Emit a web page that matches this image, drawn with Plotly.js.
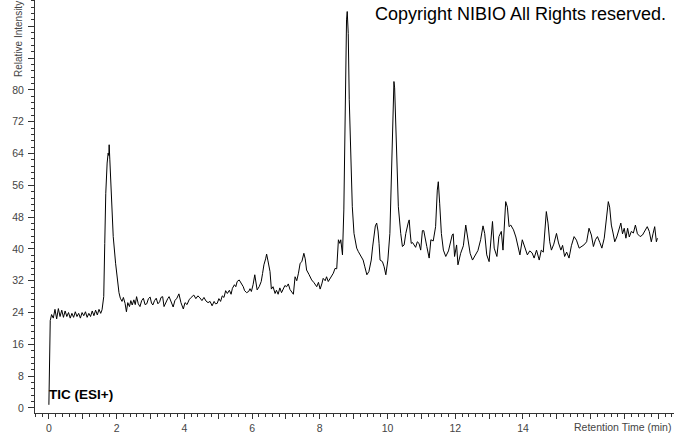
<!DOCTYPE html>
<html>
<head>
<meta charset="utf-8">
<script src="https://cdn.plot.ly/plotly-3.0.1.min.js"></script>
<style>html,body{margin:0;padding:0;background:#fff;}#chart{width:674px;height:434px;}</style>
</head>
<body>
<div id="chart"></div>
<script>
// Retention time (min)
const retentionTime = [
0.00,0.02,0.04,0.08,0.13,0.18,0.23,0.28,0.33,0.38,0.43,0.48,0.53,0.58,0.63,0.68,0.73,0.78,0.83,0.88,0.93,0.98,
1.03,1.08,1.13,1.18,1.23,1.28,1.33,1.38,1.43,1.48,1.53,1.57,1.62,1.65,1.68,1.72,1.75,1.77,1.78,1.80,1.84,1.90,1.97,
2.03,2.07,2.11,2.16,2.20,2.25,2.29,2.33,2.38,2.42,2.46,2.51,2.55,2.59,2.64,2.69,2.74,2.79,2.84,2.89,2.94,2.99,
3.03,3.07,3.12,3.17,3.22,3.27,3.31,3.36,3.40,3.46,3.51,3.55,3.61,3.67,3.72,3.78,3.84,3.90,3.97,
4.02,4.08,4.14,4.20,4.28,4.34,4.40,4.46,4.52,4.58,4.64,4.70,4.76,4.82,4.88,4.92,4.97,
5.02,5.07,5.12,5.17,5.22,5.27,5.33,5.38,5.42,5.48,5.52,5.56,5.62,5.68,5.74,5.78,5.84,5.90,5.94,5.98,
6.03,6.08,6.12,6.15,6.21,6.27,6.31,6.35,6.40,6.43,6.47,6.53,6.57,6.62,6.68,6.72,6.77,6.82,6.87,6.92,6.97,
7.02,7.07,7.12,7.17,7.22,7.27,7.32,7.37,7.42,7.47,7.53,7.57,7.61,7.68,7.76,7.83,7.91,7.96,
8.01,8.06,8.10,8.16,8.20,8.25,8.30,8.35,8.40,8.45,8.50,8.55,8.59,8.62,8.67,8.71,8.74,8.77,8.79,8.81,8.82,8.84,8.87,8.91,8.96,
9.01,9.09,9.14,9.19,9.24,9.28,9.33,9.39,9.45,9.52,9.56,9.60,9.64,9.68,9.72,9.75,9.78,9.85,9.90,9.95,
10.01,10.07,10.11,10.15,10.19,10.21,10.23,10.27,10.32,10.39,10.44,10.49,10.54,10.61,10.64,10.67,10.70,10.74,10.78,10.83,10.88,10.93,10.98,
11.03,11.07,11.12,11.16,11.23,11.28,11.35,11.42,11.47,11.50,11.54,11.59,11.65,11.72,11.80,11.86,11.91,11.94,11.98,
12.04,12.08,12.16,12.24,12.31,12.36,12.44,12.51,12.60,12.67,12.75,12.82,12.87,12.93,
13.00,13.07,13.10,13.15,13.23,13.29,13.36,13.41,13.46,13.49,13.54,13.59,13.64,13.72,13.79,13.86,13.91,13.98,
14.05,14.13,14.20,14.27,14.33,14.40,14.48,14.54,14.60,14.64,14.69,14.74,14.79,14.84,14.91,14.99,
15.05,15.12,15.17,15.23,15.29,15.36,15.43,15.51,15.58,15.66,15.73,15.80,15.88,15.95,
16.02,16.08,16.14,16.20,16.27,16.33,16.40,16.46,16.52,16.56,16.61,16.66,16.71,16.77,16.82,16.89,16.94,16.99,
17.04,17.09,17.14,17.20,17.26,17.32,17.38,17.46,17.53,17.60,17.67,17.73,17.79,17.84,17.89,17.94,17.97
];
// Relative intensity (%)
const relativeIntensity = [
0.8,12,22.0,23.5,22.6,24.8,22.4,25.0,23.0,24.6,22.8,24.4,23.0,24.0,22.6,23.8,22.8,24.2,23.0,23.8,22.6,24.0,
23.2,24.2,22.8,23.8,23.0,24.4,23.2,24.6,23.4,24.8,23.8,24.7,28,41.4,54,61.6,64.1,63.5,66.2,62.4,53.2,43.1,36.4,
31.5,29.0,27.6,26.8,27.8,26.3,24.2,26.5,25.5,27.0,25.9,27.2,26.0,28.0,26.2,25.5,27.0,27.6,26.0,26.2,27.5,27.9,
26.4,25.9,27.0,27.6,26.2,26.7,27.8,28.0,25.5,26.8,27.5,28.0,26.5,25.4,27.0,27.6,28.7,26.5,24.9,
26.5,26.0,27.2,27.8,28.4,27.5,28.2,27.7,27.0,27.8,26.9,26.5,26.8,25.7,26.8,26.2,26.3,
27.5,26.8,28.2,27.8,29.5,28.8,29.6,28.6,30.1,31.0,30.5,31.8,32.2,31.4,30.5,29.5,29.0,29.3,30.0,29.3,
31.0,33.5,31.2,29.7,30.5,31.8,33.8,36.0,37.5,38.7,37.0,34.3,29.9,30.5,28.8,29.6,28.6,30.2,29.0,30.0,30.8,
30.5,31.2,29.8,29.3,28.6,33.0,32.0,33.9,36.4,36.8,38.9,37.5,34.7,33.6,32.2,31.5,30.5,31.6,
29.9,31.2,32.6,32.0,33.0,31.8,32.5,33.2,33.9,35.1,35.0,42.3,41.4,42.3,38.5,49.8,69.1,85.9,97.6,99.7,96.5,94.2,77.5,64.9,50.6,
43.9,40.2,39.3,38.5,37.9,37.2,35.5,33.5,34.3,37.2,40.5,43.9,45.8,46.5,44.5,41.4,37.2,36.8,35.5,33.5,
37.2,43.9,56.5,75.8,82.1,80.5,75.0,62.4,50.6,43.9,40.6,41.0,43.9,46.5,47.3,44.0,41.4,41.6,41.0,40.4,41.8,41.4,39.7,
44.6,44.6,42.0,40.6,37.7,42.3,42.0,45.6,54.8,56.9,51.5,43.9,39.7,38.1,39.5,42.0,43.5,43.8,38.1,
41.0,36.0,38.9,40.8,46.0,43.1,38.9,37.2,38.5,39.6,42.3,45.8,43.9,38.5,
36.8,43.1,46.9,40.2,38.1,43.1,44.4,39.7,49.0,51.9,50.5,45.6,46.0,44.8,43.0,40.2,38.5,42.3,
40.5,38.5,39.5,39.0,37.7,39.7,37.2,39.7,39.2,44.8,49.4,46.5,41.8,39.7,41.2,43.9,
41.5,39.7,40.9,38.1,39.2,37.7,40.8,43.1,42.2,40.2,40.6,41.0,41.8,45.2,
43.5,40.6,42.3,43.1,41.6,40.2,42.7,47.3,51.9,50.5,46.0,44.0,41.8,43.0,44.4,46.5,43.8,45.2,
42.7,45.2,43.0,44.4,44.0,46.0,43.8,43.1,43.5,44.4,45.6,44.4,41.8,43.8,45.6,41.8,42.7
];
const xTickVals = [0,1,2,3,4,5,6,7,8,9,10,11,12,13,14,15,16,17,18];
const xTickText = ['0','','2','','4','','6','','8','','10','','12','','14','','','',''];
const yTickVals = [0,8,16,24,32,40,48,56,64,72,80,88,96];
const yTickText = ['0','8','16','24','32','40','48','56','64','72','80','',''];

const tickFont = {family: 'Arial, "Liberation Sans", sans-serif', size: 10.5, color: '#444'};

const trace = {
  x: retentionTime, y: relativeIntensity, type: 'scatter', mode: 'lines',
  line: {color: '#000', width: 1}, hoverinfo: 'skip'
};

const layout = {
  width: 674, height: 434,
  margin: {l: 35, r: 0, t: 0, b: 21, pad: 0},
  paper_bgcolor: '#fff', plot_bgcolor: '#fff',
  showlegend: false,
  xaxis: {
    range: [-0.41, 18.46], showgrid: false, zeroline: false,
    showline: true, linecolor: '#333', linewidth: 1,
    tickmode: 'array', tickvals: xTickVals, ticktext: xTickText,
    ticks: 'outside', ticklen: 5, tickcolor: '#333', tickwidth: 1,
    tickfont: tickFont,
    minor: {dtick: 0.2, tick0: 0, ticks: 'outside', ticklen: 3, tickcolor: '#333', showgrid: false}
  },
  yaxis: {
    range: [-1.26, 102.6], showgrid: false, zeroline: false,
    showline: true, linecolor: '#333', linewidth: 1,
    tickmode: 'array', tickvals: yTickVals, ticktext: yTickText,
    ticks: 'outside', ticklen: 6, tickcolor: '#333', tickwidth: 1,
    tickfont: tickFont, ticklabelstandoff: 2,
    minor: {dtick: 1.6, tick0: 0, ticks: 'outside', ticklen: 3, tickcolor: '#333', showgrid: false}
  },
  annotations: [
    {text: 'Copyright NIBIO All Rights reserved.', xref: 'paper', yref: 'paper',
     x: 0.9906, y: 0.966, xanchor: 'right', yanchor: 'middle', showarrow: false,
     font: {family: 'Arial, "Liberation Sans", sans-serif', size: 18, color: '#000'}},
    {text: '<b>TIC (ESI+)</b>', xref: 'paper', yref: 'paper',
     x: 0.0188, y: 0.046, xanchor: 'left', yanchor: 'middle', showarrow: false,
     font: {family: 'Arial, "Liberation Sans", sans-serif', size: 13.5, color: '#000'}},
    {text: 'Relative Intensity', xref: 'paper', yref: 'paper', textangle: -90,
     x: -0.0266, y: 1.0, xanchor: 'center', yanchor: 'top', showarrow: false,
     borderpad: 0,
     font: {family: 'Arial, "Liberation Sans", sans-serif', size: 10, color: '#444'}},
    {text: 'Retention Time (min)', xref: 'paper', yref: 'paper',
     x: 0.92, y: -0.034, xanchor: 'center', yanchor: 'middle', showarrow: false,
     font: {family: 'Arial, "Liberation Sans", sans-serif', size: 10.5, color: '#444'}}
  ]
};

Plotly.newPlot('chart', [trace], layout, {displayModeBar: false, staticPlot: true});
</script>
</body>
</html>
